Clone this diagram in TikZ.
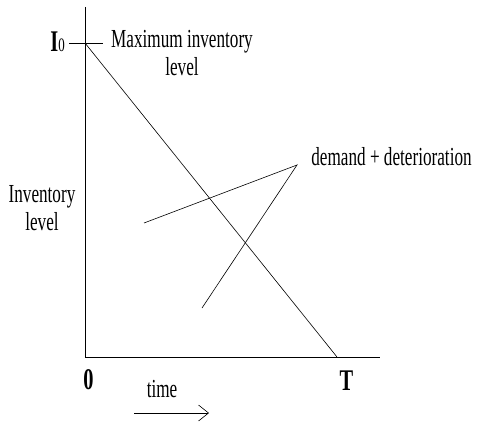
\documentclass[tikz,border=0pt]{standalone}
\usepackage{fontspec}
\setmainfont{Liberation Serif}
\usepackage{graphicx}
\usepackage{tikz}
\usetikzlibrary{arrows.meta}

\newcommand\narrowtxt[1]{\scalebox{0.66}[1]{#1}}
\newcommand\boldtxt[1]{\scalebox{0.68}[1]{\bfseries #1}}

\begin{document}
\begin{tikzpicture}[x=1pt,y=-1pt,>={Straight Barb[length=10pt,width=16pt]},line width=0.8pt]
  \useasboundingbox (0,0) rectangle (478,425);
  \tikzset{lbl/.style={inner sep=0pt,font=\fontsize{26}{28}\selectfont},
           tick/.style={inner sep=0pt,font=\fontsize{30}{30}\selectfont}}
  % axes
  \coordinate (origin) at (85,357);
  \coordinate (ytop) at (85,7);
  \coordinate (xend) at (380,357);
  \draw (ytop) -- (origin) -- (xend);
  % I0 tick and stock line
  \coordinate (imax) at (85,43);
  \coordinate (tl) at (69,43);
  \coordinate (tr) at (103,43);
  \coordinate (tend) at (337,357);
  \draw (tl) -- (tr);
  \draw[line width=0.6pt] (imax) -- (tend);
  % demand + deterioration
  \coordinate (peak) at (297,165);
  \coordinate (dleft) at (144,223);
  \coordinate (dlow) at (202,308);
  \draw[line width=0.6pt] (dleft) -- (peak) -- (dlow);
  % labels
  \node[tick,anchor=base west] (izero) at (50,52)
    {\boldtxt{I}\scalebox{0.68}[1]{\fontsize{19}{19}\selectfont 0}};
  \node[lbl,align=center,anchor=north] (maxlbl) at (182,30)
    {\narrowtxt{Maximum inventory}\\\narrowtxt{level}};
  \node[lbl,anchor=base west] (ddlbl) at (311,165) {\narrowtxt{demand + deterioration}};
  \node[lbl,align=center,anchor=north] (invlbl) at (42,185)
    {\narrowtxt{Inventory}\\\narrowtxt{level}};
  \node[tick,anchor=base] (zero) at (88.5,389) {\boldtxt{0}};
  \node[tick,anchor=base] (tT) at (346.5,390) {\boldtxt{T}};
  \node[lbl,anchor=base] (timelbl) at (162,397) {\narrowtxt{time}};
  % time arrow
  \coordinate (astart) at (134,413);
  \coordinate (aend) at (209,413);
  \draw[->,line width=0.6pt] (astart) -- (aend);
\end{tikzpicture}
\end{document}
